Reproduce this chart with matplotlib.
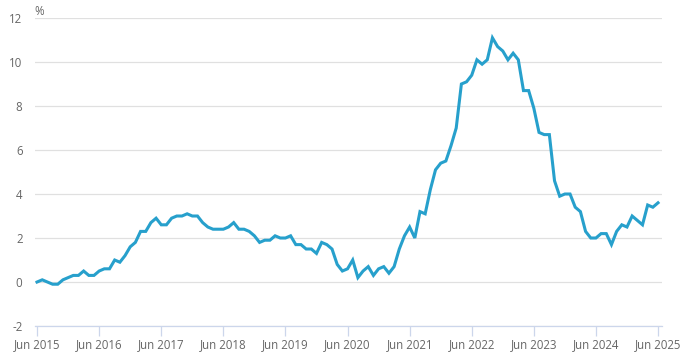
import matplotlib
matplotlib.use("Agg")
import matplotlib.pyplot as plt

plt.rcParams['font.family'] = ['Open Sans', 'DejaVu Sans']

# UK CPI annual rate, monthly Jun 2015 - Jun 2025
rate = [0.0, 0.1, 0.0, -0.1, -0.1, 0.1, 0.2,
        0.3, 0.3, 0.5, 0.3, 0.3, 0.5, 0.6, 0.6, 1.0, 0.9, 1.2, 1.6,
        1.8, 2.3, 2.3, 2.7, 2.9, 2.6, 2.6, 2.9, 3.0, 3.0, 3.1, 3.0,
        3.0, 2.7, 2.5, 2.4, 2.4, 2.4, 2.5, 2.7, 2.4, 2.4, 2.3, 2.1,
        1.8, 1.9, 1.9, 2.1, 2.0, 2.0, 2.1, 1.7, 1.7, 1.5, 1.5, 1.3,
        1.8, 1.7, 1.5, 0.8, 0.5, 0.6, 1.0, 0.2, 0.5, 0.7, 0.3, 0.6,
        0.7, 0.4, 0.7, 1.5, 2.1, 2.5, 2.0, 3.2, 3.1, 4.2, 5.1, 5.4,
        5.5, 6.2, 7.0, 9.0, 9.1, 9.4, 10.1, 9.9, 10.1, 11.1, 10.7, 10.5,
        10.1, 10.4, 10.1, 8.7, 8.7, 7.9, 6.8, 6.7, 6.7, 4.6, 3.9, 4.0,
        4.0, 3.4, 3.2, 2.3, 2.0, 2.0, 2.2, 2.2, 1.7, 2.3, 2.6, 2.5,
        3.0, 2.8, 2.6, 3.5, 3.4, 3.6]
tick_labels = ['Jun 2015', 'Jun 2016', 'Jun 2017', 'Jun 2018', 'Jun 2019', 'Jun 2020',
               'Jun 2021', 'Jun 2022', 'Jun 2023', 'Jun 2024', 'Jun 2025']
y_ticks = [-2, 0, 2, 4, 6, 8, 10, 12]

fig = plt.figure(figsize=(6.93, 3.6), dpi=100)
ax = fig.add_axes([0.0505, 0.0944, 0.905, 0.8556])

ax.plot(range(len(rate)), rate, color='#27a0cc', lw=2.2, solid_joinstyle='miter')

ax.set_xlim(-0.4, 120.8)
ax.set_ylim(-2, 12)
ax.set_xticks(range(0, 121, 12))
ax.set_xticklabels(tick_labels)
ax.set_yticks(y_ticks)
ax.set_yticklabels([str(v) for v in y_ticks])

ax.grid(axis='y', color='#e0e0e0', lw=0.9)
ax.set_axisbelow(True)
for s in ['top', 'right', 'left']:
    ax.spines[s].set_visible(False)
ax.spines['bottom'].set_color('#ccd6eb')
ax.spines['bottom'].set_linewidth(0.9)
ax.tick_params(axis='x', colors='#ccd6eb', length=7, width=0.9, labelcolor='#666666', labelsize=8.3, pad=2)
ax.tick_params(axis='y', length=0, labelcolor='#666666', labelsize=8.3, pad=9)

ax.text(-0.6, 12.3, '%', color='#666666', fontsize=8.3, ha='left', va='center', clip_on=False)

fig.savefig('out.png', dpi=100, facecolor='white')
